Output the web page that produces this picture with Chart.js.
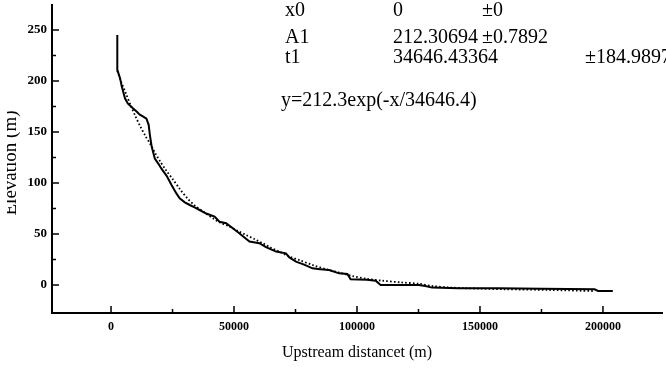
<!DOCTYPE html>
<html>
<head>
<meta charset="utf-8">
<script src="https://cdn.jsdelivr.net/npm/chart.js@4.4.1/dist/chart.umd.min.js"></script>
<style>
  html, body { margin: 0; padding: 0; background: #fff; overflow: hidden; }
  #wrap { position: relative; width: 666px; height: 374px; }
</style>
</head>
<body>
<div id="wrap"><canvas id="grafica" width="666" height="374"></canvas></div>
<script>
// perfil medido (linea continua)
const elevX = [2550, 2550, 3640, 4330, 5670, 6800, 7700, 9000, 10400, 11700, 13100, 14400, 15300, 15800,
  16500, 17800, 19200, 20500, 22600, 24600, 26500, 27900, 30000, 32000, 34000, 36000, 38700, 42100, 44100,
  46800, 49500, 52000, 54000, 56300, 60300, 63000, 67100, 71100, 72500, 75200, 78500, 81900, 85000, 88700,
  92700, 96100, 97400, 104000, 107600, 109600, 118000, 125100, 127800, 130500, 141300, 157500, 175000,
  196600, 198000, 204000];
const elevY = [245, 211, 203, 195, 183, 178, 176, 173, 170, 167, 165, 163, 157, 147,
  136, 124, 119, 114, 107, 98, 90, 85, 81, 78.4, 76, 73.5, 70, 67, 62,
  60.5, 55.6, 51, 47, 42.5, 41, 37, 32.7, 31, 27, 22.8, 20, 16.3, 15.5, 14.7,
  11.4, 10.8, 5.6, 5, 4.2, 0, 0, 0, -1, -2.6, -3.2, -3.3, -3.8,
  -4.2, -5.9, -5.9];

// curva ajustada (punteada)
const fitX = [2550, 4000, 6000, 8000, 10000, 12000, 14000, 16000, 18000, 20000, 22500, 25000, 28000, 31000,
  34000, 38000, 41400, 44500, 48200, 51500, 54900, 58300, 61700, 65000, 68400, 72500, 77000, 82000, 88000,
  93000, 98000, 104000, 110200, 118000, 125100, 130500, 137000, 144000, 160000, 177700, 196600];
const fitY = [210, 200, 188, 176, 165, 155, 146, 138, 129, 121, 112, 104, 94, 85,
  78, 71, 65.4, 61, 57.2, 53, 49, 45, 40.9, 36.5, 32.7, 27.8, 24, 19.5, 15,
  12, 8.8, 6, 4.2, 2.5, 1.2, -1, -2.4, -3.2, -4.2, -4.9, -6];

// ejes
const xTicks = [0, 50000, 100000, 150000, 200000];
const xMinor = [25000, 75000, 125000, 175000];
const yTicks = [0, 50, 100, 150, 200, 250];
const yMinor = [25, 75, 125, 175, 225];

// tabla de parametros del ajuste
const paramNames = ['x0', 'A1', 't1'];
const paramValues = ['0', '212.30694', '34646.43364'];
const paramErrors = ['\u00b10', '\u00b10.7892', '\u00b1184.9897'];
const fitFormula = 'y=212.3exp(-x/34646.4)';

const SERIF = '"Liberation Serif", "Times New Roman", serif';
Chart.defaults.color = '#000';

// marcas de los ejes hacia dentro
const marcasInternas = {
  id: 'marcasInternas',
  afterDraw(chart) {
    const { ctx, chartArea, scales: { x, y } } = chart;
    ctx.save();
    ctx.strokeStyle = '#000';
    ctx.lineWidth = 1.5;
    ctx.beginPath();
    xTicks.forEach(v => { const p = x.getPixelForValue(v); ctx.moveTo(p, chartArea.bottom); ctx.lineTo(p, chartArea.bottom - 7); });
    xMinor.forEach(v => { const p = x.getPixelForValue(v); ctx.moveTo(p, chartArea.bottom); ctx.lineTo(p, chartArea.bottom - 4); });
    yTicks.forEach(v => { const p = y.getPixelForValue(v); ctx.moveTo(chartArea.left, p); ctx.lineTo(chartArea.left + 7, p); });
    yMinor.forEach(v => { const p = y.getPixelForValue(v); ctx.moveTo(chartArea.left, p); ctx.lineTo(chartArea.left + 4, p); });
    ctx.stroke();
    ctx.restore();
  }
};

// titulo del eje y (cortado por el borde) y tabla del ajuste
const textos = {
  id: 'textos',
  afterDraw(chart) {
    const { ctx } = chart;
    ctx.save();
    ctx.fillStyle = '#000';
    // titulo y, recortado como en el escaneo
    ctx.save();
    ctx.beginPath();
    ctx.rect(7, 0, 40, 374);
    ctx.clip();
    ctx.translate(16, 163);
    ctx.rotate(-Math.PI / 2);
    ctx.font = '19px ' + SERIF;
    ctx.textAlign = 'center';
    ctx.textBaseline = 'alphabetic';
    ctx.fillText('Elevation (m)', 0, 0);
    ctx.restore();

    ctx.font = '20px ' + SERIF;
    ctx.textAlign = 'left';
    ctx.textBaseline = 'alphabetic';
    const filas = [16, 43, 63];
    const errX = [482, 482, 585];
    paramNames.forEach((n, i) => {
      ctx.fillText(n, 285, filas[i]);
      ctx.fillText(paramValues[i], 393, filas[i]);
      ctx.fillText(paramErrors[i], errX[i], filas[i]);
    });
    ctx.fillText(fitFormula, 281, 106);
    ctx.restore();
  }
};

const canvas = document.getElementById('grafica');
new Chart(canvas, {
  type: 'line',
  data: {
    datasets: [
      {
        label: 'Perfil',
        data: elevX.map((x, i) => ({ x: x, y: elevY[i] })),
        borderColor: '#000',
        borderWidth: 2,
        pointRadius: 0,
        fill: false,
        tension: 0
      },
      {
        label: 'Ajuste',
        data: fitX.map((x, i) => ({ x: x, y: fitY[i] })),
        borderColor: '#000',
        borderWidth: 1.8,
        borderDash: [1.6, 2.2],
        pointRadius: 0,
        fill: false,
        tension: 0.3
      }
    ]
  },
  options: {
    responsive: false,
    animation: false,
    layout: { padding: { top: 5, right: 4, left: 0, bottom: 0 } },
    plugins: { legend: { display: false }, tooltip: { enabled: false } },
    scales: {
      x: {
        type: 'linear',
        min: -24000,
        max: 224000,
        afterFit: s => { s.height = 61; s.paddingLeft = 0; s.paddingRight = 0; },
        afterBuildTicks: s => { s.ticks = xTicks.map(v => ({ value: v })); },
        grid: { display: true, drawOnChartArea: false, drawTicks: false },
        border: { display: true, color: '#000', width: 2 },
        ticks: {
          padding: 7,
          maxRotation: 0,
          autoSkip: false,
          font: { family: SERIF, size: 12, weight: 'bold' },
          callback: v => String(v)
        },
        title: {
          display: true,
          text: 'Upstream distancet (m)',
          font: { family: SERIF, size: 16 },
          padding: { top: 0, bottom: 12 }
        }
      },
      y: {
        type: 'linear',
        min: -27.5,
        max: 274.5,
        afterFit: s => { s.width = 52; s.paddingTop = 0; s.paddingBottom = 0; },
        afterBuildTicks: s => { s.ticks = yTicks.map(v => ({ value: v })); },
        grid: { display: true, drawOnChartArea: false, drawTicks: false },
        border: { display: true, color: '#000', width: 2 },
        ticks: {
          padding: 5,
          autoSkip: false,
          font: { family: SERIF, size: 13, weight: 'bold' },
          callback: v => String(v)
        }
      }
    }
  },
  plugins: [marcasInternas, textos]
});
</script>
</body>
</html>
